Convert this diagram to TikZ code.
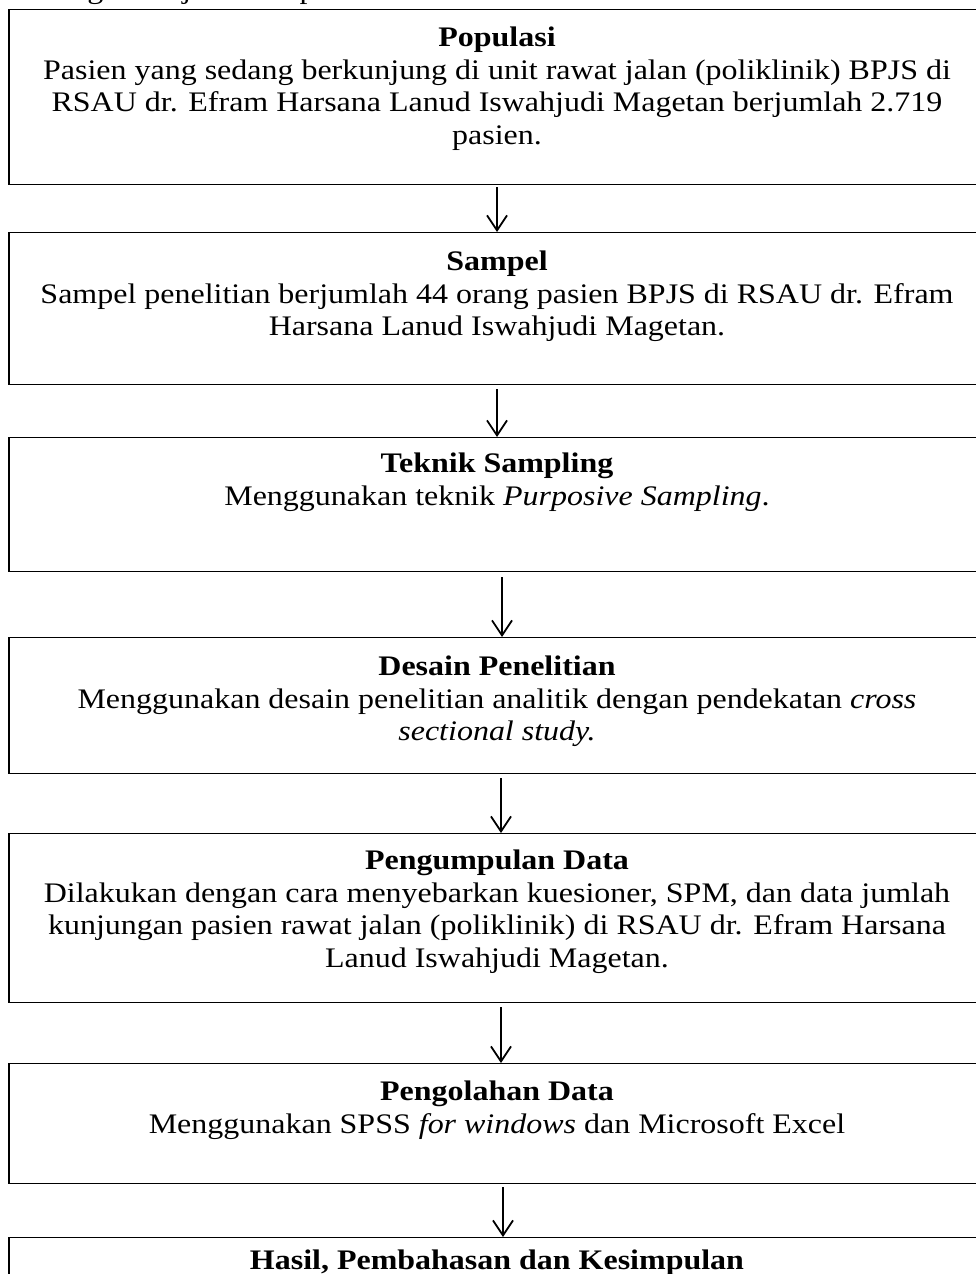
\documentclass[tikz,border=0pt]{standalone}
\usepackage{fontspec}
\setmainfont[FakeStretch=1.13]{Liberation Serif}
\usetikzlibrary{arrows.meta}
\begin{document}
\begin{tikzpicture}[x=1pt,y=1pt,
 box/.style={draw=black, line width=1.3pt, minimum width=976pt, inner sep=0pt, anchor=north},
 txt/.style={anchor=north, inner sep=0pt, align=center, font=\fontsize{28.3}{32.5}\selectfont},
 arr/.style={-{Straight Barb[length=15pt,width=20pt]}, line width=1.8pt}]
\useasboundingbox (0,0) rectangle (976,-1274);
\clip (0,0) rectangle (976,-1274);
\fill[white] (0,0) rectangle (976,-1274);
\node[anchor=base west, inner sep=0pt, font=\fontsize{28.3}{32.5}\selectfont] (cap) at (9,1.5) {Kerangka kerja dalam penelitian ini adalah:};
\node[box, minimum height=175pt] (b1) at (497,-9) {};
\node[box, minimum height=152pt] (b2) at (497,-232) {};
\node[box, minimum height=134pt] (b3) at (497,-437) {};
\node[box, minimum height=136pt] (b4) at (497,-637) {};
\node[box, minimum height=169pt] (b5) at (497,-833) {};
\node[box, minimum height=120pt] (b6) at (497,-1063) {};
\node[box, minimum height=100pt] (b7) at (497,-1237) {};
\node[txt] (t1) at ([yshift=-18pt]b1.north) {\textbf{Populasi}\\Pasien yang sedang berkunjung di unit rawat jalan (poliklinik) BPJS di\\RSAU dr. Efram Harsana Lanud Iswahjudi Magetan berjumlah 2.719\\pasien.};
\node[txt] (t2) at ([yshift=-19pt]b2.north) {\textbf{Sampel}\\Sampel penelitian berjumlah 44 orang pasien BPJS di RSAU dr. Efram\\Harsana Lanud Iswahjudi Magetan.};
\node[txt] (t3) at ([yshift=-16pt]b3.north) {\textbf{Teknik Sampling}\\Menggunakan teknik \textit{Purposive Sampling}.};
\node[txt] (t4) at ([yshift=-19pt]b4.north) {\textbf{Desain Penelitian}\\Menggunakan desain penelitian analitik dengan pendekatan \textit{cross}\\\textit{sectional study.}};
\node[txt] (t5) at ([yshift=-17pt]b5.north) {\textbf{Pengumpulan Data}\\Dilakukan dengan cara menyebarkan kuesioner, SPM, dan data jumlah\\kunjungan pasien rawat jalan (poliklinik) di RSAU dr. Efram Harsana\\Lanud Iswahjudi Magetan.};
\node[txt] (t6) at ([yshift=-18pt]b6.north) {\textbf{Pengolahan Data}\\Menggunakan SPSS \textit{for windows} dan Microsoft Excel};
\node[txt] (t7) at ([yshift=-13pt]b7.north) {\textbf{Hasil, Pembahasan dan Kesimpulan}};
\draw[arr] ([yshift=-2pt]b1.south) -- (b2.north);
\draw[arr] ([yshift=-4pt]b2.south) -- (b3.north);
\draw[arr] ([xshift=5pt,yshift=-5pt]b3.south) -- ([xshift=5pt]b4.north);
\draw[arr] ([xshift=4pt,yshift=-4pt]b4.south) -- ([xshift=4pt]b5.north);
\draw[arr] ([xshift=4pt,yshift=-4pt]b5.south) -- ([xshift=4pt]b6.north);
\draw[arr] ([xshift=6pt,yshift=-3pt]b6.south) -- ([xshift=6pt]b7.north);
\end{tikzpicture}
\end{document}
